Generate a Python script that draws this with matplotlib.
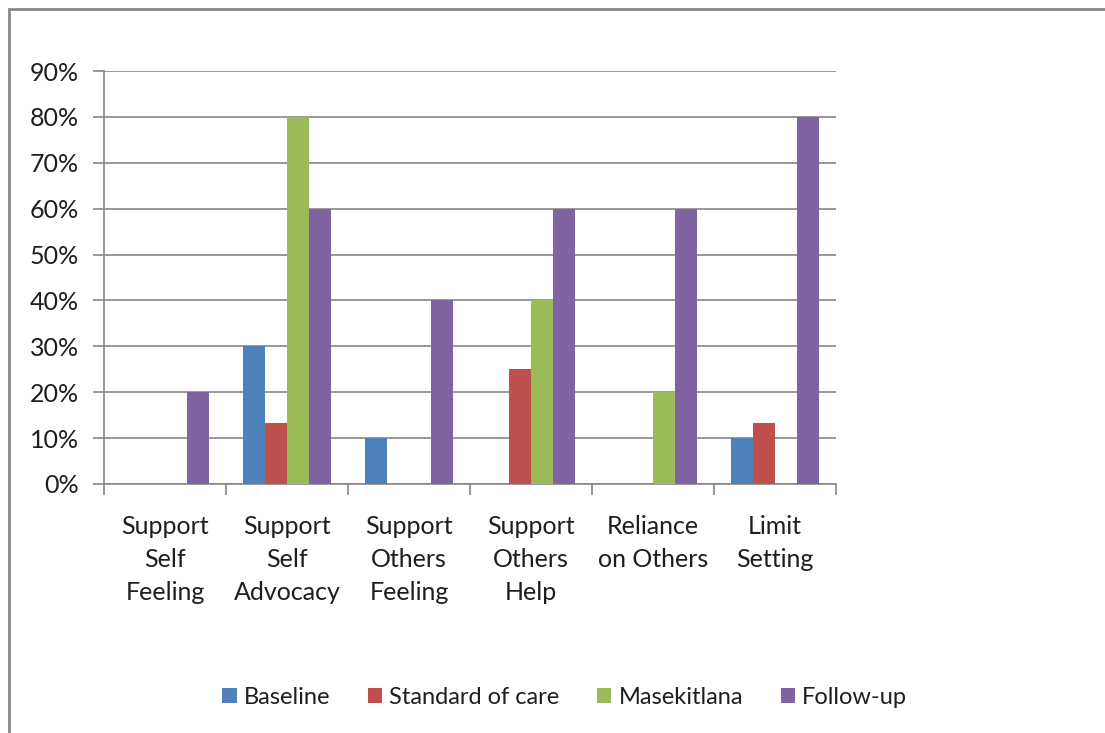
import numpy as np
import matplotlib
matplotlib.use('Agg')
import matplotlib.pyplot as plt
from matplotlib.patches import Rectangle
from matplotlib.ticker import FuncFormatter

plt.rcParams['font.family'] = ['Lato', 'DejaVu Sans']

categories = ['Support\nSelf\nFeeling', 'Support\nSelf\nAdvocacy', 'Support\nOthers\nFeeling',
              'Support\nOthers\nHelp', 'Reliance\non Others', 'Limit\nSetting']
series_names = ['Baseline', 'Standard of care', 'Masekitlana', 'Follow-up']
baseline = [0, 30, 10, 0, 0, 10]
standard = [0, 13.3, 0, 25, 0, 13.3]
masekitlana = [0, 80, 0, 40, 20, 0]
follow_up = [20, 60, 40, 60, 60, 80]
colors = ['#4F81BD', '#C0504D', '#9BBB59', '#8064A2']

fig = plt.figure(figsize=(11.05, 7.33), dpi=100)
ax = fig.add_axes([0.0941, 0.3397, 0.6624, 0.5634])

x = np.arange(len(categories))
w = 0.18
for i, (vals, name) in enumerate(zip([baseline, standard, masekitlana, follow_up], series_names)):
    ax.bar(x + (i - 1.5) * w, vals, w, color=colors[i], label=name, zorder=3)

ax.set_xlim(-0.5, len(categories) - 0.5)
ax.set_ylim(0, 90)
ax.set_yticks(np.arange(0, 91, 10))
ax.yaxis.set_major_formatter(FuncFormatter(lambda v, p: f'{int(v)}%'))
ax.yaxis.grid(True, color='#868686', lw=1.2, zorder=0)
ax.set_xticks(np.arange(-0.5, len(categories), 1))
ax.set_xticklabels([])
ax.set_xticks(x, minor=True)
ax.set_xticklabels(categories, minor=True, fontsize=18, color='#1e1e1e', linespacing=1.53)
ax.tick_params(axis='x', which='minor', length=0, pad=22)
ax.tick_params(axis='x', which='major', length=8, color='#868686', width=1.2)
ax.tick_params(axis='y', length=8, color='#868686', width=1.2, labelsize=18, pad=10, labelcolor='#1e1e1e')
for s in ['top', 'right']:
    ax.spines[s].set_visible(False)
for s in ['left', 'bottom']:
    ax.spines[s].set_color('#868686')
    ax.spines[s].set_linewidth(1.2)

leg = fig.legend(loc='center', bbox_to_anchor=(0.511, 0.048), ncol=4, frameon=False,
                 fontsize=17, handlelength=0.6, handleheight=0.6, handletextpad=0.3,
                 columnspacing=1.6)
for t in leg.get_texts():
    t.set_color('#1e1e1e')

fig.patches.append(Rectangle((9 / 1105, -0.1), 1.2, (733 - 9) / 733 + 0.1, transform=fig.transFigure,
                             fill=False, edgecolor='#878787', lw=2))

fig.savefig('out.png', dpi=100)
